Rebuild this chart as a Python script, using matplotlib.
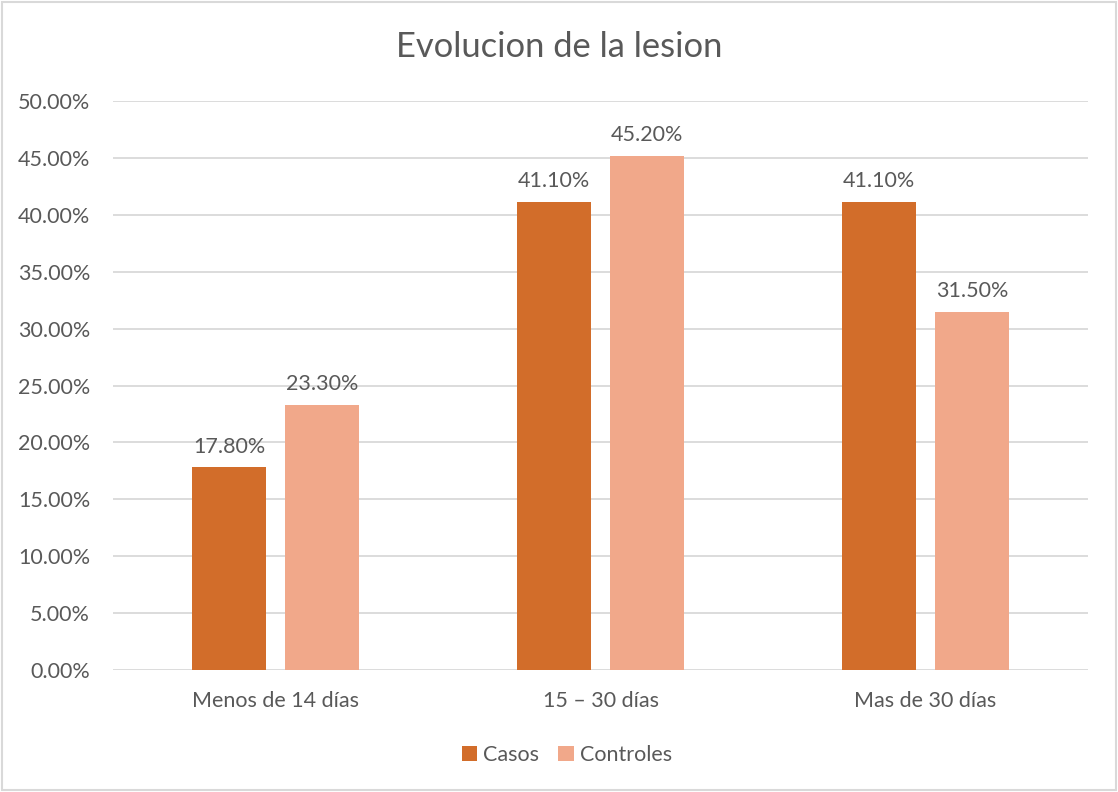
import matplotlib.pyplot as plt
import numpy as np
from matplotlib.ticker import FuncFormatter

# Data
categories = ['Menos de 14 días', '15 – 30 días', 'Mas de 30 días']
casos = [0.178, 0.411, 0.411]
controles = [0.233, 0.452, 0.315]
series_names = ['Casos', 'Controles']

plt.rcParams['font.family'] = ['Lato', 'DejaVu Sans']
text_color = '#595959'
colors = ['#D26D2A', '#F1A88A']

fig = plt.figure(figsize=(11.18, 7.92), dpi=100)
ax = fig.add_axes([0.1011, 0.154, 0.8721, 0.7185])

x = np.arange(len(categories))
width = 0.225
offset = 0.143

for vals, off, c, name in zip([casos, controles], [-offset, offset], colors, series_names):
    bars = ax.bar(x + off, vals, width, color=c, label=name, zorder=2)
    for b, v in zip(bars, vals):
        ax.text(b.get_x() + b.get_width() / 2, v + 0.0095, f'{v * 100:.2f}%',
                ha='center', va='bottom', fontsize=15.5, color=text_color)

ax.set_xlim(-0.5, 2.5)
ax.set_ylim(0, 0.5)
ax.set_yticks(np.arange(0, 0.501, 0.05))
ax.yaxis.set_major_formatter(FuncFormatter(lambda v, p: f'{v * 100:.2f}%'))
ax.set_xticks(x)
ax.set_xticklabels(categories)
ax.tick_params(axis='both', length=0, labelsize=15.5, labelcolor=text_color)
ax.tick_params(axis='y', pad=16.5)
ax.tick_params(axis='x', pad=15)
ax.grid(axis='y', color='#D9D9D9', linewidth=1.3, zorder=0)
ax.set_axisbelow(True)
for s in ax.spines.values():
    s.set_visible(False)

fig.text(0.5, 0.941, 'Evolucion de la lesion', ha='center', va='center',
         fontsize=24.8, color=text_color)

fig.legend(loc='center', bbox_to_anchor=(0.507, 0.047), ncol=2, frameon=False,
           fontsize=15.5, labelcolor=text_color, handlelength=0.7,
           handleheight=0.7, handletextpad=0.3, columnspacing=0.9)

# Light frame around the whole chart
fig.patches.append(plt.Rectangle((0.002, 0.002), 0.996, 0.996, transform=fig.transFigure,
                                 fill=False, edgecolor='#D9D9D9', linewidth=1.5))

fig.savefig('out.png', dpi=100)
